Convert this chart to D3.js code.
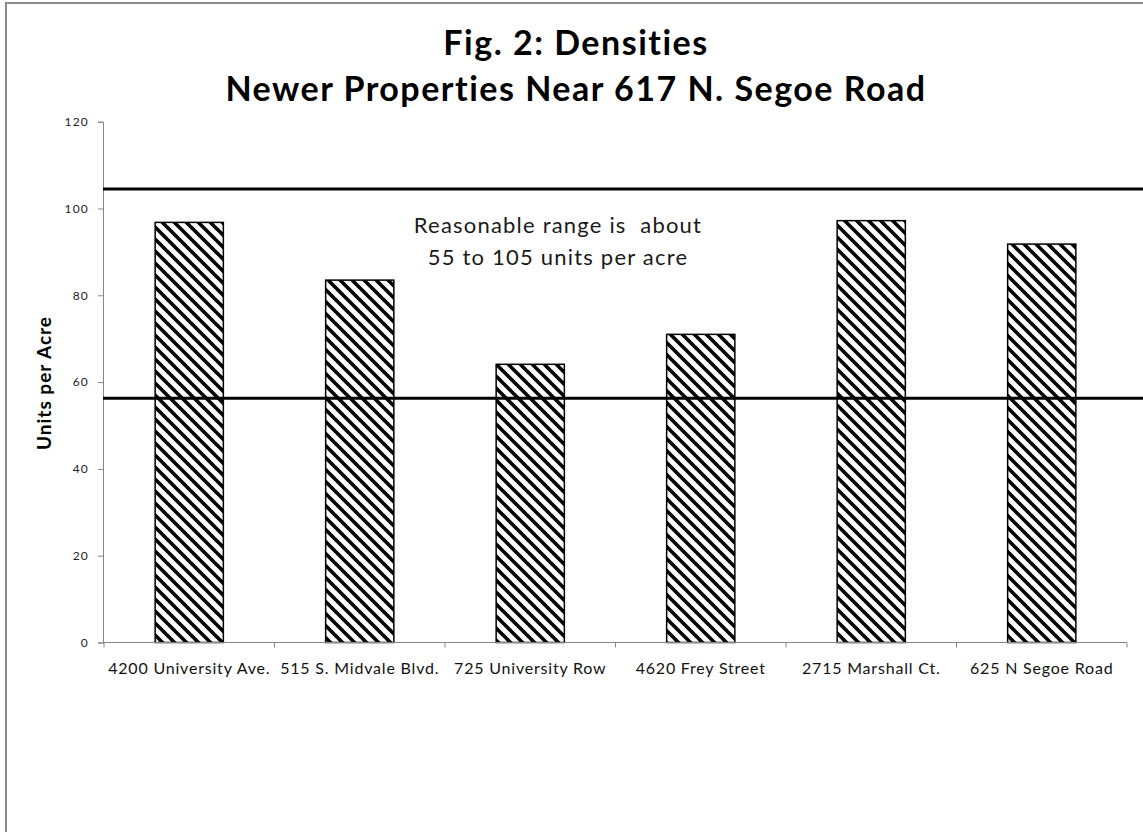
<!DOCTYPE html>
<html>
<head>
<meta charset="utf-8">
<script src="https://cdn.jsdelivr.net/npm/d3@7"></script>
<style>
  body { margin: 0; background: #fff; }
  svg { display: block; font-family: Lato, "Open Sans", sans-serif; font-variant-ligatures: none; }
  text { white-space: pre; }
</style>
</head>
<body>
<div id="content"></div>
<script>
// Screen dimensions
var w = 1143;
var h = 832;

// Chart data
var categories = ["4200 University Ave.", "515 S. Midvale Blvd.", "725 University Row",
                  "4620 Frey Street", "2715 Marshall Ct.", "625 N Segoe Road"];
var densities = [96.8, 83.5, 64.1, 71.0, 97.2, 91.8];
var rangeLines = [56.3, 104.5];   // "reasonable range" bounds
var yTicks = [0, 20, 40, 60, 80, 100, 120];
var titleLines = ["Fig. 2: Densities", "Newer Properties Near 617 N. Segoe Road"];
var noteLines = ["Reasonable range is  about", "55 to 105 units per acre"];

// Plot area (don't use "top" - clashes with window.top)
var plotL = 103, plotR = 1127, plotT = 121.7, plotB = 642.5;

var svg = d3.select("#content")
    .append("svg")
    .attr("width", w)
    .attr("height", h);

// hatch pattern (wide downward diagonal)
var pat = svg.append("defs")
    .append("pattern")
    .attr("id", "hatch")
    .attr("patternUnits", "userSpaceOnUse")
    .attr("width", 12)
    .attr("height", 12);
pat.append("rect")
   .attr("width", 12)
   .attr("height", 12)
   .attr("fill", "white");
pat.append("path")
   .attr("d", "M-6,6 L6,18 M0,0 L12,12 M6,-6 L18,6")
   .attr("stroke", "black")
   .attr("stroke-width", 3.6);

// background + outer border
svg.append("rect")
   .attr("width", w)
   .attr("height", h)
   .attr("fill", "white");
svg.append("rect")
   .attr("x", 6)
   .attr("y", 3)
   .attr("width", w + 20)
   .attr("height", h + 20)
   .attr("fill", "none")
   .attr("stroke", "#8a8a8a")
   .attr("stroke-width", 2);

// scales
var x = d3.scaleBand()
    .domain(categories)
    .range([plotL + 1, plotR])
    .paddingInner(0.6)
    .paddingOuter(0.3);
var y = d3.scaleLinear()
    .domain([0, 120])
    .range([plotB, plotT]);

// y axis
var yAxis = svg.append("g")
    .attr("transform", "translate(" + plotL + ",0)")
    .call(d3.axisLeft(y).tickValues(yTicks).tickSize(5).tickPadding(9));
yAxis.select(".domain").attr("stroke", "#868686");
yAxis.selectAll(".tick line").attr("stroke", "#868686");
yAxis.selectAll(".tick text")
     .attr("font-family", "Lato, sans-serif")
     .attr("font-size", 12)
     .attr("letter-spacing", 1.2)
     .attr("fill", "#222");

// bars
svg.selectAll("rect.bar")
   .data(densities)
   .enter()
   .append("rect")
   .attr("class", "bar")
   .attr("x", function(d, i) { return x(categories[i]); })
   .attr("y", function(d) { return y(d); })
   .attr("width", x.bandwidth())
   .attr("height", function(d) { return y(0) - y(d); })
   .attr("fill", "url(#hatch)")
   .attr("stroke", "black")
   .attr("stroke-width", 1.5);

// x axis: labels at band centres, ticks at band edges
var xAxis = svg.append("g")
    .attr("transform", "translate(0," + plotB + ")")
    .call(d3.axisBottom(x).tickSize(0).tickPadding(20));
xAxis.select(".domain").remove();
xAxis.selectAll(".tick text")
     .attr("font-family", "Lato, sans-serif")
     .attr("font-size", 16)
     .attr("letter-spacing", 0.8)
     .attr("fill", "#111");
var edges = categories.map(function(c) { return x(c) - x.step() * x.paddingInner() / 2; });
edges.push(edges[edges.length - 1] + x.step());
svg.append("line")
   .attr("x1", plotL)
   .attr("x2", edges[edges.length - 1])
   .attr("y1", plotB)
   .attr("y2", plotB)
   .attr("stroke", "#868686");
svg.selectAll("line.xtick")
   .data(edges)
   .enter()
   .append("line")
   .attr("class", "xtick")
   .attr("x1", function(d) { return d; })
   .attr("x2", function(d) { return d; })
   .attr("y1", plotB)
   .attr("y2", plotB + 5)
   .attr("stroke", "#868686");

// reasonable range lines
svg.selectAll("line.range")
   .data(rangeLines)
   .enter()
   .append("line")
   .attr("class", "range")
   .attr("x1", plotL)
   .attr("x2", w)
   .attr("y1", function(d) { return y(d); })
   .attr("y2", function(d) { return y(d); })
   .attr("stroke", "black")
   .attr("stroke-width", 3);

// note
svg.selectAll("text.note")
   .data(noteLines)
   .enter()
   .append("text")
   .attr("class", "note")
   .attr("x", 558)
   .attr("y", function(d, i) { return 233 + i * 32; })
   .attr("text-anchor", "middle")
   .attr("font-size", 22)
   .attr("letter-spacing", 1.2)
   .attr("fill", "#1a1a1a")
   .text(function(d) { return d; });

// title
svg.selectAll("text.title")
   .data(titleLines)
   .enter()
   .append("text")
   .attr("class", "title")
   .attr("x", 576)
   .attr("y", function(d, i) { return 55 + i * 46; })
   .attr("text-anchor", "middle")
   .attr("font-size", 34)
   .attr("letter-spacing", 1.5)
   .attr("font-weight", "bold")
   .attr("fill", "black")
   .text(function(d) { return d; });

// y axis title
svg.append("text")
   .attr("transform", "translate(51,383) rotate(-90)")
   .attr("text-anchor", "middle")
   .attr("font-size", 19)
   .attr("letter-spacing", 1)
   .attr("font-weight", "bold")
   .text("Units per Acre");
</script>
</body>
</html>
